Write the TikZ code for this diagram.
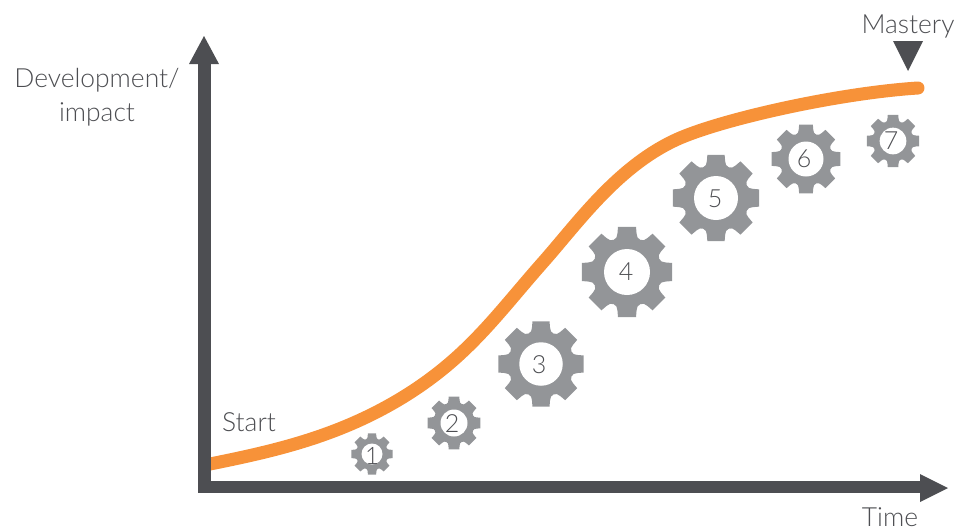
\documentclass[tikz,border=0pt]{standalone}
\usepackage{fontspec}
\setmainfont{Lato Light}
\definecolor{axisc}{HTML}{4D4E52}
\definecolor{orangec}{HTML}{F79239}
\definecolor{gearc}{HTML}{939598}
\definecolor{textc}{HTML}{4D4E52}
\tikzset{
  axisline/.style={line width=12.5pt,draw=axisc},
  axishead/.style={fill=axisc,draw=none},
  curveline/.style={line width=13pt,draw=orangec,line cap=round},
  lab/.style={text=textc,font=\fontsize{26.4}{34}\selectfont,inner sep=0pt,align=center},
  gearnum/.style={text=textc,font=\fontsize{#1}{#1}\selectfont,inner sep=0pt},
}
\newcommand{\gearshape}[3]{% cx, cy, R; hole = R/2
  \fill[gearc] ({#1+#3*cos(11.3)},{#2+#3*sin(11.3)})
    \foreach \a in {0,45,...,315}{
      -- ({#1+#3*cos(\a+11.3)},{#2+#3*sin(\a+11.3)})
      -- ({#1+.86*#3*cos(\a+14)},{#2+.86*#3*sin(\a+14)})
      .. controls ({#1+.73*#3*cos(\a+16)},{#2+.73*#3*sin(\a+16)})
         and ({#1+.73*#3*cos(\a+29)},{#2+.73*#3*sin(\a+29)})
      .. ({#1+.86*#3*cos(\a+31)},{#2+.86*#3*sin(\a+31)})
      -- ({#1+#3*cos(\a+33.7)},{#2+#3*sin(\a+33.7)})
    } -- cycle;
  \fill[white] (#1,#2) circle ({#3/2});
}
\begin{document}
\begin{tikzpicture}[x=1pt,y=-1pt]
\useasboundingbox (0,0) rectangle (954,528);
\draw[curveline] (205,465) .. controls (270,452) and (335,438) .. (400,399)
  .. controls (468,358) and (497,314) .. (545,260)
  .. controls (580,220) and (620,164) .. (680,138)
  .. controls (727,118) and (840,93) .. (918,88);
\draw[axisline] (204.5,60) -- (204.5,487) -- (925,487);
\fill[axishead] (204,36) -- (219,64) -- (189,64) -- cycle;
\fill[axishead] (948,488) -- (920,474) -- (920,502) -- cycle;
\fill[axisc] (893,41) -- (923,41) -- (908,71) -- cycle;
\gearshape{372}{454}{21}
\gearshape{454}{423}{27}
\gearshape{541}{364}{43.5}
\gearshape{627}{272}{46}
\gearshape{716}{198}{44}
\gearshape{806}{159}{35}
\gearshape{893}{141}{26.7}
\node[gearnum=24] (n1) at (372,456) {1};
\node[gearnum=25] (n2) at (452,424) {2};
\node[gearnum=25] (n3) at (539,365) {3};
\node[gearnum=25] (n4) at (626,272) {4};
\node[gearnum=25] (n5) at (715,199) {5};
\node[gearnum=25] (n6) at (804,159) {6};
\node[gearnum=25] (n7) at (891,141) {7};
\node[lab] (dev) at (97,97) {Development/\\impact};
\node[lab] (start) at (249,422) {Start};
\node[lab] (mastery) at (908,26) {Mastery};
\node[lab] (time) at (890,517) {Time};
\end{tikzpicture}
\end{document}
